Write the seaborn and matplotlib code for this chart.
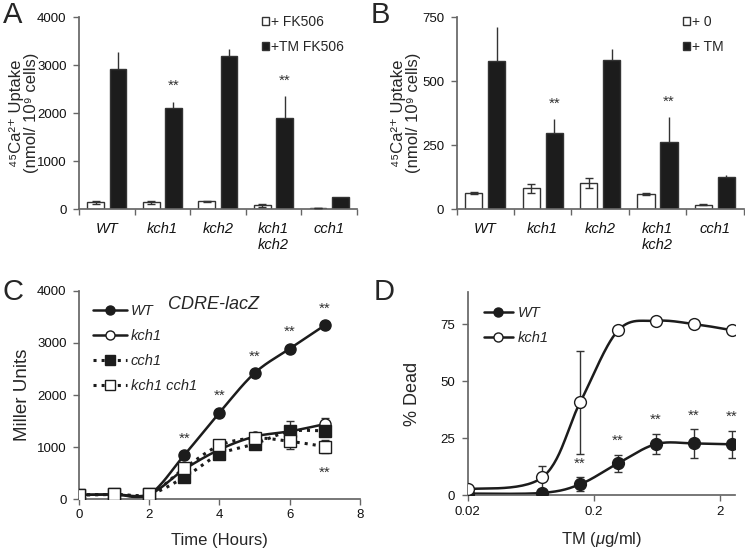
import numpy as np
import pandas as pd
import seaborn as sns
import matplotlib.pyplot as plt
from matplotlib.lines import Line2D
from matplotlib.ticker import NullLocator

# Calcium uptake (A, B), CDRE-lacZ (C) and cell death (D)
strains = ['WT', 'kch1', 'kch2', 'kch1\nkch2', 'cch1']

a_fk506 = [140, 140, 167, 80, 25]
a_fk506_err = [25, 25, 10, 25, 5]
a_tm_fk506 = [2910, 2110, 3180, 1900, 250]
a_tm_fk506_err = [360, 130, 160, 450, 0]
a_stars = [0, 1, 0, 1, 0]

b_zero = [62, 81, 102, 60, 18]
b_zero_err = [4, 19, 20, 5, 2]
b_tm = [577, 298, 583, 261, 127]
b_tm_err = [133, 53, 42, 97, 7]
b_stars = [0, 1, 0, 1, 0]

hours = [0, 1, 2, 3, 4, 5, 6, 7]
c_wt = [80, 90, 90, 846, 1660, 2420, 2890, 3340]
c_kch1 = [80, 90, 90, 570, 950, 1200, 1300, 1440]
c_kch1_err = [0, 0, 0, 0, 0, 60, 200, 120]
c_cch1 = [80, 90, 90, 420, 860, 1060, 1300, 1310]
c_kch1_cch1 = [80, 90, 90, 590, 1030, 1170, 1110, 1010]
c_kch1_cch1_err = [0, 0, 0, 0, 0, 0, 150, 130]

tm_dose = [0.02, 0.078, 0.156, 0.3125, 0.625, 1.25, 2.5]
d_wt = [0.7, 1.0, 4.8, 14.0, 22.4, 22.7, 22.3]
d_wt_err = [0, 0, 3.0, 3.8, 4.4, 6.2, 5.8]
d_kch1 = [2.6, 7.8, 40.7, 72.2, 76.4, 75.0, 72.3]
d_kch1_err = [0, 5.0, 22.5, 0, 0, 0, 0]

sns.set_theme(style='ticks')
plt.rcParams['font.family'] = ['Liberation Sans', 'DejaVu Sans']
plt.rcParams['mathtext.fontset'] = 'custom'
plt.rcParams['mathtext.rm'] = 'Liberation Sans'
plt.rcParams['mathtext.it'] = 'Liberation Sans:italic'
plt.rcParams['axes.edgecolor'] = '#666666'
plt.rcParams['xtick.color'] = '#666666'
plt.rcParams['ytick.color'] = '#666666'
plt.rcParams['xtick.labelcolor'] = '#111111'
plt.rcParams['ytick.labelcolor'] = '#111111'

BLACK = '#1c1c1c'


def smooth(x, y, n=30):
    # excel-like smoothed line (bezier through the points)
    pts = np.column_stack([x, y]).astype(float)
    P = np.vstack([pts[0], pts, pts[-1]])
    t = np.linspace(0, 1, n)[:, None]
    segs = []
    for i in range(1, len(P) - 2):
        p0, p1, p2, p3 = P[i - 1], P[i], P[i + 1], P[i + 2]
        b1 = p1 + (p2 - p0) / 6
        b2 = p2 - (p3 - p1) / 6
        segs.append((1 - t) ** 3 * p1 + 3 * (1 - t) ** 2 * t * b1 + 3 * (1 - t) * t ** 2 * b2 + t ** 3 * p2)
    out = np.vstack(segs)
    return out[:, 0], out[:, 1]


def uptake_panel(ax, white, white_err, black, black_err, stars, names, ymax, step, ylab):
    df = pd.DataFrame({
        'strain': strains * 2,
        'cond': [names[0]] * 5 + [names[1]] * 5,
        'value': white + black,
    })
    sns.barplot(data=df, x='strain', y='value', hue='cond', ax=ax,
                palette={names[0]: 'white', names[1]: BLACK},
                edgecolor='#333333', linewidth=1, width=0.8, gap=0.25,
                errorbar=None)
    xw = [b.get_x() + b.get_width() / 2 for b in ax.containers[0]]
    xb = [b.get_x() + b.get_width() / 2 for b in ax.containers[1]]
    ax.errorbar(xw, white, yerr=white_err, fmt='none', ecolor='#333333',
                elinewidth=1, capsize=3, capthick=1, zorder=5)
    ax.errorbar(xb, black, yerr=[[0] * 5, black_err], fmt='none',
                ecolor='#333333', elinewidth=1, capsize=0, zorder=1)
    for x, v, e, s in zip(xb, black, black_err, stars):
        if s:
            ax.annotate('**', (x, v + e), xytext=(0, 6), textcoords='offset points',
                        ha='center', va='bottom', fontsize=11, color='#333333')
    ax.set_ylim(0, ymax)
    ax.set_yticks(np.arange(0, ymax + 1, step))
    ax.set_xlim(-0.5, 4.5)
    ax.set_xticks(np.arange(-0.5, 5, 1))
    ax.set_xticklabels([])
    ax.set_xticks(np.arange(5), minor=True)
    ax.set_xticklabels(strains, minor=True, fontstyle='italic', fontsize=10.5)
    ax.tick_params(axis='x', which='minor', length=0, pad=9)
    ax.tick_params(axis='both', which='major', length=4, width=1, labelsize=9.5)
    ax.tick_params(axis='y', pad=5)
    ax.set_xlabel('')
    ax.set_ylabel(ylab, fontsize=12, linespacing=1.0)
    ax.yaxis.set_label_coords(names[3], 0.5)
    h, l = ax.get_legend_handles_labels()
    ax.legend(h, l, loc='upper left', bbox_to_anchor=(names[2], 1.01), frameon=False,
              fontsize=10, handlelength=0.5, handleheight=0.5, handletextpad=0.15,
              labelspacing=0.75, borderaxespad=0, borderpad=0)
    sns.despine(ax=ax)


fig = plt.figure(figsize=(7.45, 5.49), dpi=100)
ax_a = fig.add_axes([0.106, 0.619, 0.373, 0.350])
ax_b = fig.add_axes([0.613, 0.619, 0.385, 0.350])
ax_c = fig.add_axes([0.106, 0.091, 0.377, 0.379])
ax_d = fig.add_axes([0.628, 0.098, 0.358, 0.370])

ylab = '⁴⁵Ca²⁺ Uptake\n(nmol/ 10⁹ cells)'
uptake_panel(ax_a, a_fk506, a_fk506_err, a_tm_fk506, a_tm_fk506_err, a_stars,
             ['+ FK506', '+TM FK506', 0.66, -0.145], 4000, 1000, ylab)
uptake_panel(ax_b, b_zero, b_zero_err, b_tm, b_tm_err, b_stars,
             ['+ 0', '+ TM', 0.79, -0.125], 750, 250, ylab)

# panel C
series_c = [
    ('WT', c_wt, None, '-', 'o', BLACK),
    ('kch1', c_kch1, c_kch1_err, '-', 'o', 'white'),
    ('cch1', c_cch1, None, ':', 's', BLACK),
    ('kch1 cch1', c_kch1_cch1, c_kch1_cch1_err, ':', 's', 'white'),
]
handles = []
for name, vals, err, ls, mk, fc in series_c:
    sx, sy = smooth(hours, vals)
    ax_c.plot(sx, sy, color=BLACK, ls=ls, lw=2.2 if ls == ':' else 1.8, zorder=2)
    if err is not None:
        ax_c.errorbar(hours, vals, yerr=err, fmt='none', ecolor='#333333',
                      elinewidth=1, capsize=3, zorder=2)
    ax_c.plot(hours, vals, ls='none', marker=mk, ms=8.5 if mk == 's' else 8,
              mfc=fc, mec=BLACK, mew=1, zorder=3)
    handles.append(Line2D([], [], color=BLACK, ls=ls, lw=2.2 if ls == ':' else 1.8,
                          marker=mk, ms=6.5, mfc=fc, mec=BLACK, label=name))
for t, v in zip(hours[3:], c_wt[3:]):
    ax_c.annotate('**', (t, v), xytext=(0, 7), textcoords='offset points',
                  ha='center', va='bottom', fontsize=11, color='#333333')
ax_c.annotate('**', (hours[-1], c_kch1_cch1[-1]), xytext=(0, -14), textcoords='offset points',
              ha='center', va='top', fontsize=11, color='#333333')
ax_c.legend(handles=handles, loc='upper left', bbox_to_anchor=(0.05, 0.935), frameon=False,
            prop={'style': 'italic', 'size': 10.5}, handlelength=2.3, handletextpad=0.3,
            labelspacing=0.75, borderaxespad=0, borderpad=0)
ax_c.text(0.48, 0.975, 'CDRE-lacZ', transform=ax_c.transAxes, ha='center', va='top',
          fontsize=13, fontstyle='italic')
ax_c.set_xlim(0, 8)
ax_c.set_ylim(0, 4000)
ax_c.set_xticks([0, 2, 4, 6, 8])
ax_c.set_yticks([0, 1000, 2000, 3000, 4000])
ax_c.tick_params(length=4, width=1, labelsize=9.5)
ax_c.tick_params(axis='y', pad=5)
ax_c.set_xlabel('Time (Hours)', fontsize=12, labelpad=8)
ax_c.set_ylabel('Miller Units', fontsize=13.5)
sns.despine(ax=ax_c)

# panel D
handles = []
for name, vals, err, fc in [('WT', d_wt, d_wt_err, BLACK), ('kch1', d_kch1, d_kch1_err, 'white')]:
    lx, sy = smooth(np.log10(tm_dose), vals)
    ax_d.plot(10 ** lx, sy, color=BLACK, lw=1.8, zorder=2)
    ax_d.errorbar(tm_dose, vals, yerr=err, fmt='none', ecolor='#333333',
                  elinewidth=1, capsize=3, zorder=2)
    ax_d.plot(tm_dose, vals, ls='none', marker='o', ms=8.5, mfc=fc, mec=BLACK,
              mew=1, zorder=3)
    handles.append(Line2D([], [], color=BLACK, lw=1.8, marker='o', ms=6.5,
                          mfc=fc, mec=BLACK, label=name))
for x, v, e in list(zip(tm_dose, d_wt, d_wt_err))[2:]:
    ax_d.annotate('**', (x, v + e), xytext=(0, 5), textcoords='offset points',
                  ha='center', va='bottom', fontsize=11, color='#333333')
ax_d.legend(handles=handles, loc='upper left', bbox_to_anchor=(0.06, 0.93), frameon=False,
            prop={'style': 'italic', 'size': 10.5}, handlelength=2.0, handletextpad=0.3,
            labelspacing=0.75, borderaxespad=0, borderpad=0)
ax_d.set_xscale('log')
ax_d.set_xlim(0.02, 2.63)
ax_d.set_xticks([0.02, 0.2, 2])
ax_d.set_xticklabels(['0.02', '0.2', '2'])
ax_d.xaxis.set_minor_locator(NullLocator())
ax_d.set_ylim(0, 89)
ax_d.set_yticks([0, 25, 50, 75])
ax_d.tick_params(length=4, width=1, labelsize=9.5)
ax_d.tick_params(axis='y', pad=5)
ax_d.set_xlabel('TM ($\\mu$g/ml)', fontsize=12, labelpad=9)
ax_d.set_ylabel('% Dead', fontsize=13, labelpad=14)
sns.despine(ax=ax_d)

for lab, x, y in [('A', 0.004, 0.998), ('B', 0.498, 0.998), ('C', 0.004, 0.493), ('D', 0.502, 0.493)]:
    fig.text(x, y, lab, fontsize=21, ha='left', va='top')

fig.savefig('out.png', dpi=100)
